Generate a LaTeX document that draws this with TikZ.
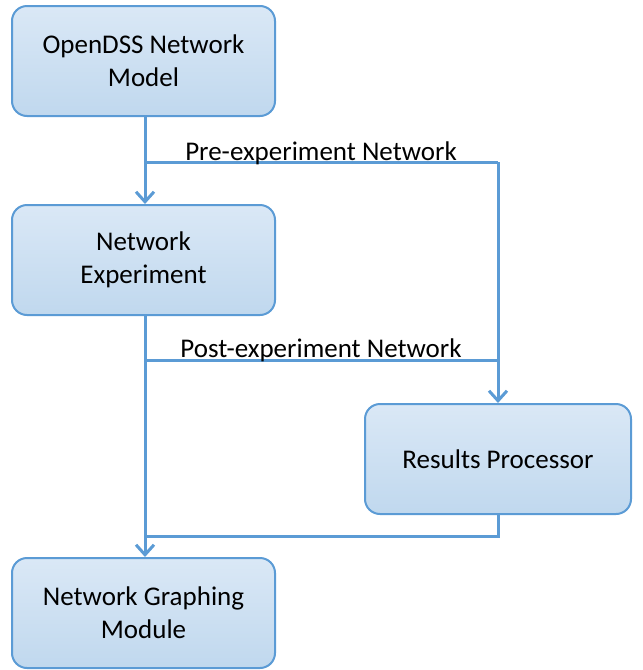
\documentclass[tikz,border=0pt]{standalone}
\usepackage{fontspec}
\setmainfont{Carlito}
\usetikzlibrary{arrows.meta}
\definecolor{lineblue}{HTML}{5B9BD5}
\definecolor{filltop}{HTML}{DAE8F6}
\definecolor{fillbot}{HTML}{C0D8EE}
\begin{document}
\begin{tikzpicture}[x=1pt,y=-1pt,
  box/.style={draw=lineblue, line width=2pt, rounded corners=15pt, top color=filltop, bottom color=fillbot,
    minimum width=263pt, minimum height=110pt, align=center, font=\fontsize{27}{33}\selectfont, inner sep=0pt},
  conn/.style={draw=lineblue, line width=3pt},
  arr/.style={conn, -{Straight Barb[length=10pt,width=18pt,line width=3pt]}},
  lbl/.style={font=\fontsize{27}{33}\selectfont, inner sep=0pt}]
\useasboundingbox (0,0) rectangle (643,670);
\node[box] (m) at (143.5,61) {OpenDSS Network\\Model};
\node[box] (e) at (143.5,260) {Network\\Experiment};
\node[box, minimum width=266pt] (r) at (498,459) {Results Processor};
\node[box] (g) at (143.5,613) {Network Graphing\\Module};
\coordinate (j1) at (145,162);
\coordinate (k1) at (498,162);
\coordinate (j2) at (145,360);
\coordinate (k2) at (498,360);
\coordinate (j3) at (145,536);
\coordinate (k3) at (498,536);
\draw[arr] (m.south -| j1) -- (e.north -| j1);
\draw[conn] (j1) -- (k1);
\draw[arr] (k1) -- (r.north -| k1);
\draw[arr] (e.south -| j2) -- (g.north -| j2);
\draw[conn] (j2) -- (k2);
\draw[conn] (r.south -| k3) -- (k3) -- (j3);
\node[lbl] (pre) at (321,153) {Pre-experiment Network};
\node[lbl] (post) at (321,350) {Post-experiment Network};
\end{tikzpicture}
\end{document}
